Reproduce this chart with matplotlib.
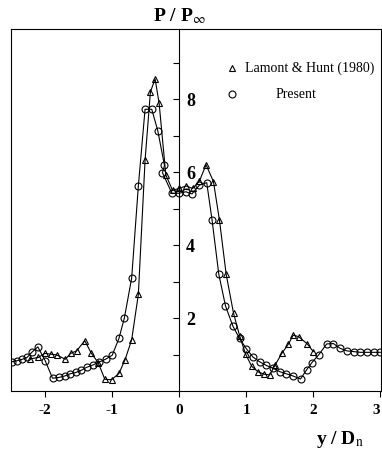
import numpy as np
import matplotlib
matplotlib.use('Agg')
import matplotlib.pyplot as plt
from matplotlib import rcParams

config = {
    "font.family": 'serif',
    "font.serif": ['Liberation Serif', 'DejaVu Serif'],
    "mathtext.fontset": 'stix',
    "axes.unicode_minus": False,
}
rcParams.update(config)

# Present (circles)
present_x = [-2.50, -2.42, -2.34, -2.27, -2.20, -2.11, -2.00, -1.89, -1.80, -1.71,
             -1.63, -1.54, -1.46, -1.38, -1.29, -1.20, -1.10, -1.00, -0.90, -0.82,
             -0.71, -0.61, -0.51, -0.41, -0.32, -0.22, -0.25, -0.11, 0.00, 0.10,
             0.19, 0.30, 0.41, 0.49, 0.59, 0.69, 0.80, 0.90, 1.00, 1.10,
             1.20, 1.30, 1.40, 1.50, 1.60, 1.70, 1.81, 1.90, 1.98, 2.08,
             2.20, 2.30, 2.40, 2.50, 2.60, 2.70, 2.80, 2.90, 3.00]
present_y = [0.80, 0.83, 0.87, 0.92, 1.06, 1.21, 0.83, 0.35, 0.37, 0.41,
             0.47, 0.51, 0.57, 0.65, 0.71, 0.79, 0.87, 0.98, 1.44, 1.99,
             3.09, 5.62, 7.72, 7.72, 7.13, 6.18, 5.98, 5.42, 5.42, 5.46,
             5.40, 5.64, 5.71, 4.68, 3.20, 2.33, 1.78, 1.44, 1.16, 0.93,
             0.80, 0.70, 0.62, 0.53, 0.47, 0.41, 0.33, 0.58, 0.78, 0.99,
             1.29, 1.30, 1.17, 1.10, 1.08, 1.06, 1.06, 1.06, 1.06]

# Lamont & Hunt (1980) (triangles)
lamont_x = [-2.22, -2.10, -2.01, -1.92, -1.83, -1.70, -1.62, -1.53, -1.41, -1.31,
            -1.21, -1.11, -1.01, -0.90, -0.81, -0.71, -0.61, -0.51, -0.43, -0.36,
            -0.30, -0.20, -0.10, 0.00, 0.10, 0.20, 0.30, 0.40, 0.51, 0.60,
            0.70, 0.81, 0.90, 0.99, 1.08, 1.18, 1.27, 1.35, 1.43, 1.53,
            1.63, 1.70, 1.78, 1.91, 2.00]
lamont_y = [0.88, 0.92, 1.03, 1.01, 0.99, 0.87, 1.03, 1.10, 1.38, 1.03,
            0.78, 0.32, 0.31, 0.48, 0.85, 1.40, 2.65, 6.32, 8.20, 8.55,
            7.88, 5.92, 5.50, 5.55, 5.62, 5.55, 5.75, 6.20, 5.74, 4.68,
            3.20, 2.13, 1.52, 1.01, 0.68, 0.52, 0.46, 0.44, 0.71, 1.03,
            1.29, 1.53, 1.49, 1.29, 1.08]

x_ticks = [-2, -1, 0, 1, 2, 3]
y_major = [2, 4, 6, 8]
y_minor = [1, 3, 5, 7, 9]
xmin, xmax = -2.51, 3.01
ymin, ymax = 0, 9.92

fig = plt.figure(figsize=(3.82, 4.66), dpi=100)
ax = fig.add_axes([11 / 382, 75 / 466, 370 / 382, 362 / 466])

ax.plot(present_x, present_y, '-', color='k', lw=0.8, marker='o', ms=5,
        mfc='none', mec='k', mew=0.8)
ax.plot(lamont_x, lamont_y, '-', color='k', lw=0.8, marker='^', ms=5,
        mfc='none', mec='k', mew=0.8)

ax.set_xlim(xmin, xmax)
ax.set_ylim(ymin, ymax)

for s in ax.spines.values():
    s.set_linewidth(0.8)
ax.set_yticks([])
ax.set_xticks(x_ticks)
ax.set_xticklabels([str(t) for t in x_ticks], fontsize=11, fontweight='bold')
ax.tick_params(axis='x', direction='out', length=4, width=0.8, pad=5)
# last label sits at the figure edge, keep it inside
ax.get_xticklabels()[-1].set_ha('right')

# vertical axis through x = 0
loc = (0 - xmin) / (xmax - xmin)
sec = ax.secondary_yaxis(loc)
sec.spines['left'].set_linewidth(0.8)
sec.spines['right'].set_visible(False)
sec.set_yticks(y_major)
sec.set_yticks(y_minor, minor=True)
sec.set_yticklabels([str(t) for t in y_major], fontsize=13, fontweight='bold')
sec.tick_params(axis='y', which='both', direction='out', length=4, width=0.8,
                left=True, right=False, labelleft=False, labelright=True, pad=1)

# legend
ax.plot([0.597], [0.892], '^', transform=ax.transAxes, ms=5, mfc='none',
        mec='k', mew=0.8, clip_on=False)
ax.plot([0.597], [0.820], 'o', transform=ax.transAxes, ms=5, mfc='none',
        mec='k', mew=0.8, clip_on=False)
ax.text(0.632, 0.892, 'Lamont & Hunt (1980)', transform=ax.transAxes,
        fontsize=10, ha='left', va='center')
ax.text(0.77, 0.820, 'Present', transform=ax.transAxes,
        fontsize=10, ha='center', va='center')

# axis titles
ax.text(loc, 1.035, r'P / P$_{\infty}$', transform=ax.transAxes,
        fontsize=14, fontweight='bold', ha='center', va='center')
ax.text(0.89, -0.135, r'y / D$_{\mathrm{n}}$', transform=ax.transAxes,
        fontsize=14, fontweight='bold', ha='center', va='center')

fig.savefig('out.png', dpi=100)
